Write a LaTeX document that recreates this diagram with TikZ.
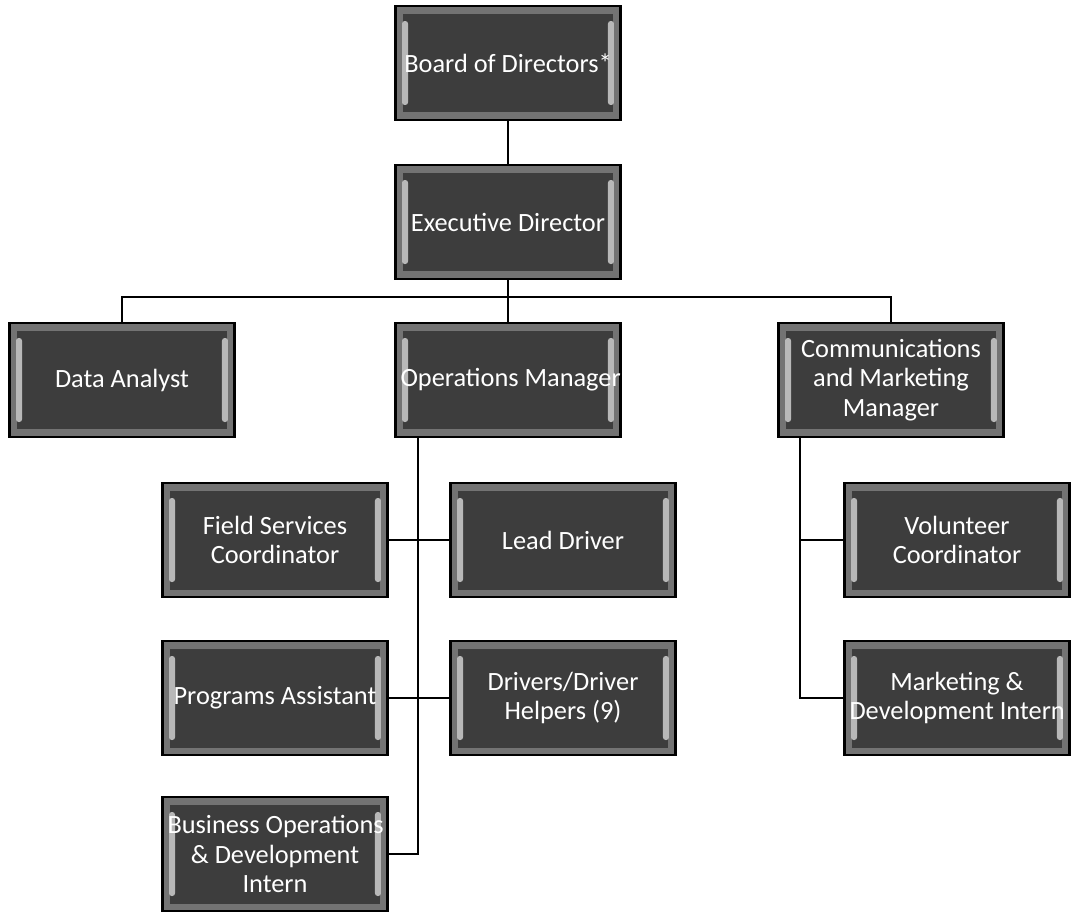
\documentclass[tikz,border=0pt]{standalone}
\usepackage{fontspec}
\setmainfont{Carlito}
\usetikzlibrary{calc,positioning}
\tikzset{%
    post/.style={%
        rectangle, draw=black, line width=1.2pt, fill=black!55,
        minimum width=4.5cm, minimum height=2.28cm, inner xsep=0.1cm,
        text width=4.3cm, align=flush center, text=white,
        font=\fontsize{15}{16.8}\selectfont,
        path picture={%
          \fill[black!76] ($(path picture bounding box.south west)+(0.15cm,0.15cm)$)
            rectangle ($(path picture bounding box.north east)+(-0.15cm,-0.15cm)$);
          \fill[black!28, rounded corners=1.5pt]
            ($(path picture bounding box.south west)+(0.13cm,0.3cm)$)
            rectangle ($(path picture bounding box.north west)+(0.25cm,-0.3cm)$);
          \fill[black!28, rounded corners=1.5pt]
            ($(path picture bounding box.south east)+(-0.13cm,0.3cm)$)
            rectangle ($(path picture bounding box.north east)+(-0.25cm,-0.3cm)$);
        }
    },
    link/.style={%
      draw, line width=0.8pt
    },
}
\begin{document}
\begin{tikzpicture}[x=0.02cm,y=-0.02cm]
      \useasboundingbox (0,0) rectangle (1073,914);

      % top of the tree
      \node[post] (board) at (508,63) {\mbox{Board of Directors*}};
      \node[post] (exec) at (508,222) {\mbox{Executive Director}};
      \node[post] (data) at (122,380) {Data Analyst};
      \node[post] (ops) at (508,380) {\mbox{Operations Manager}};
      \node[post] (comms) at (891,380) {Communications\\and Marketing\\Manager};

      % operations staff
      \node[post] (field) at (275,540) {Field Services\\Coordinator};
      \node[post] (lead) at (563,540) {Lead Driver};
      \node[post] (prog) at (275,698) {\mbox{Programs Assistant}};
      \node[post] (drivers) at (563,698) {Drivers/Driver\\Helpers (9)};
      \node[post] (bizops) at (275,854) {\mbox{Business Operations}\\\& Development\\Intern};

      % communications staff
      \node[post] (vol) at (957,540) {Volunteer\\Coordinator};
      \node[post] (mkt) at (957,698) {Marketing \&\\\mbox{Development Intern}};

      \coordinate (bus) at (508,297);
      \coordinate (opsline) at (418,854);
      \coordinate (commsline) at (800,698);

      \draw[link] (board) -- (exec);
      \draw[link] (exec.south) -- (bus);
      \draw[link] (data.north) |- (bus) -| (comms.north);
      \draw[link] (bus) -- (ops.north);

      \draw[link] (ops.south west -| opsline) -- (opsline) -- (bizops.east);
      \draw[link] (field.east) -- (lead.west);
      \draw[link] (prog.east) -- (drivers.west);

      \draw[link] (comms.south west -| commsline) -- (commsline) -- (mkt.west);
      \draw[link] (vol.west) -- (vol.west -| commsline);
    \end{tikzpicture}
\end{document}
